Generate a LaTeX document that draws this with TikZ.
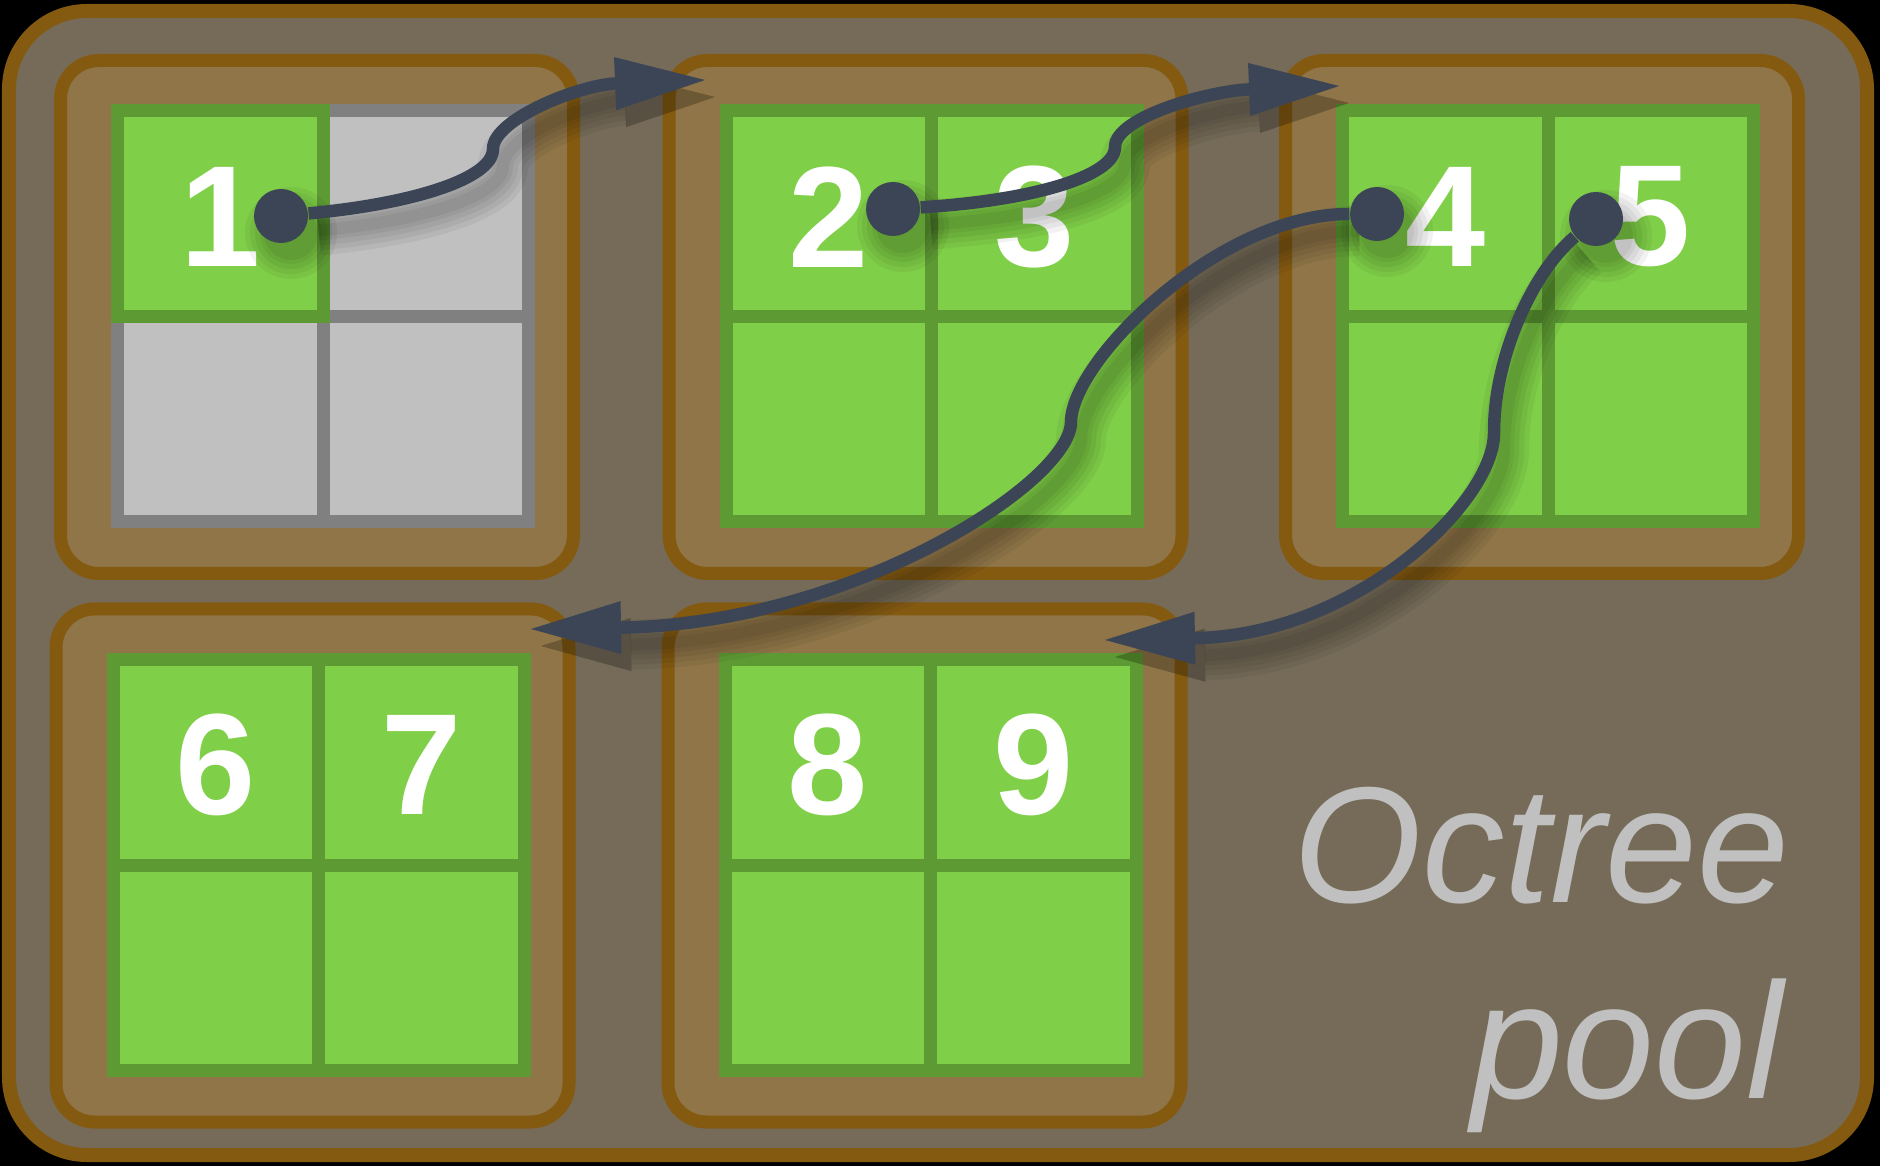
\documentclass[tikz,border=0pt]{standalone}
\usepackage{fontspec}
\setmainfont{Liberation Sans}
\usetikzlibrary{positioning}
\usetikzlibrary{arrows.meta}
\definecolor{poolfill}{RGB}{118,107,88}
\definecolor{rimbrown}{RGB}{132,90,17}
\definecolor{slotfill}{RGB}{143,117,72}
\definecolor{leafgreen}{RGB}{128,207,72}
\definecolor{leafdark}{RGB}{94,154,52}
\definecolor{voidgrey}{RGB}{192,192,192}
\definecolor{voiddark}{RGB}{128,128,128}
\definecolor{linkblue}{RGB}{59,69,86}
\pgfdeclarelayer{front}
\pgfsetlayers{main,front}
\newcommand{\linkpaths}[1]{%
  \draw[link,#1] (d1) .. controls +(1.3,0.12) and +(0,-0.3) .. (b1)
    .. controls +(0,0.3) and +(-1.25,-0.05) .. (e1);
  \draw[link,#1] (d2) .. controls +(1.35,0.08) and +(0,-0.3) .. (b2)
    .. controls +(0,0.3) and +(-1.3,-0.05) .. (e2);
  \draw[link,#1] (d4) .. controls +(-1.6,0) and +(0,0.6) .. (b3)
    .. controls +(0,-0.6) and +(3.2,0.05) .. (e3);
  \draw[link,#1] (d5) .. controls +(-0.61,-0.51) and +(0,0.8) .. (b4)
    .. controls +(0,-0.7) and +(2.5,0.05) .. (e4);
}

\begin{document}
\begin{tikzpicture}[
module/.style ={draw=rimbrown, fill=slotfill, line width=1.3mm, rounded corners=3.85mm, minimum size=51.3mm, inner sep=0pt},
leaf/.style ={draw=leafdark, fill=leafgreen, line width=1.3mm, minimum size=20.55mm, inner sep=0pt},
void/.style ={draw=voiddark, fill=voidgrey, line width=1.3mm, minimum size=20.55mm, inner sep=0pt},
digit/.style ={text=white, font=\bfseries\fontsize{41}{41}\selectfont, inner sep=0pt, yshift=-0.3mm},
dot/.style ={shape=circle, fill=linkblue, minimum size=5.4mm, inner sep=0pt},
link/.style ={draw=linkblue, line width=1.25mm, -{Triangle[length=9mm, width=5.3mm, line width=0pt]}},
shadowline/.style ={draw=black, opacity=0.05, line width=#1},
pooltext/.style ={text=voidgrey, font=\itshape\fontsize{47}{47}\selectfont, inner sep=0pt}]
% pool frame
\fill[black] (0,0) rectangle (18.8,11.66);
\draw[draw=rimbrown, fill=poolfill, line width=1.4mm, rounded corners=7.8mm] (0.09,0.11) rectangle (18.67,11.55);
% modules with their eight children
\foreach \m/\x/\y/\kind in {m1/3.17/8.49/void, m2/9.255/8.49/leaf, m3/15.42/8.49/leaf, m4/3.125/3.005/leaf, m5/9.245/3.005/leaf}{
  \node[module] (\m) at (\x,\y) {};
  \foreach \i/\dx/\dy in {a/-1/1, b/1/1, c/-1/-1, d/1/-1}
    \node[\kind] (\m\i) at ([shift={(\dx*1.0275+0.06,\dy*1.0275+0.005)}]\m) {};
}
\node[leaf] (used) at (m1a) {};
\foreach \n/\c in {1/m1a, 2/m2a, 3/m2b, 4/m3a, 5/m3b, 6/m4a, 7/m4b, 8/m5a, 9/m5b}
  \node[digit] (n\n) at (\c) {\n};
\node[pooltext, anchor=base east] (octree) at (17.9,2.64) {Octree};
\node[pooltext, anchor=base east] (pool) at ([xshift=-0.6mm, yshift=-19.6mm]octree.base east) {pool};
% links between modules
\begin{pgfonlayer}{front}
\node[dot] (d1) at (2.81,9.50) {};
\node[dot] (d2) at (8.93,9.57) {};
\node[dot] (d4) at (13.77,9.52) {};
\node[dot] (d5) at (15.96,9.47) {};
\coordinate (b1) at (4.93,10.17);
\coordinate (b2) at (11.15,10.19);
\coordinate (b3) at (10.71,7.44);
\coordinate (b4) at (14.94,7.33);
\coordinate (e1) at (7.05,10.86);
\coordinate (e2) at (13.39,10.80);
\coordinate (e3) at (5.31,5.37);
\coordinate (e4) at (11.05,5.26);
\linkpaths{}
\end{pgfonlayer}
% soft shadows
\begin{scope}[transform canvas={shift={(0.1,-0.17)}}]
\foreach \w/\r in {5mm/4.6mm, 4mm/4.1mm, 3mm/3.6mm, 2mm/3.1mm, 1.2mm/2.7mm}{
  \linkpaths{shadowline=\w}
  \foreach \d in {d1,d2,d4,d5}
    \fill[black, opacity=0.05] (\d) circle (\r);
}
\end{scope}
\end{tikzpicture}
\end{document}
